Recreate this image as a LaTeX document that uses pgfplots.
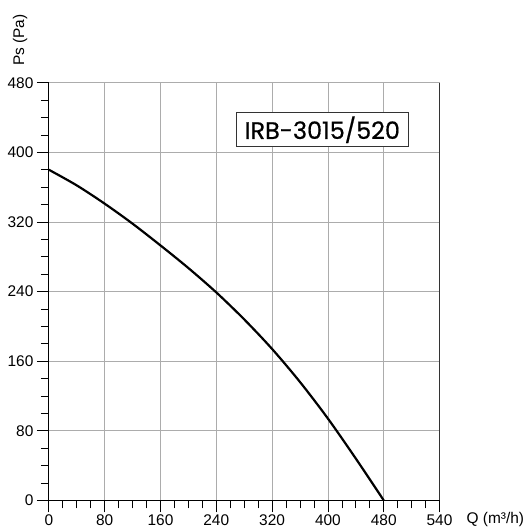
\documentclass[border=0pt]{standalone}
\usepackage{pgfplots}
\pgfplotsset{compat=1.18}
\usepackage{fontspec}
\setmainfont{Liberation Sans}
\newfontfamily\titlefont[FakeBold=0.6]{Poppins}
\begin{document}
\begin{tikzpicture}
\begin{axis}[
  scale only axis, width=392pt, height=419pt,
  xmin=0, xmax=560, ymin=0, ymax=480,
  axis x line=bottom, axis y line=left, axis line style={-, black, line width=0.8pt},
  xtick={0,80,160,240,320,400,480,560},
  xticklabels={0,80,160,240,320,400,480,540},
  ytick={0,80,160,240,320,400,480},
  minor x tick num=3, minor y tick num=3,
  tick align=outside, major tick length=12pt, minor tick length=8pt,
  tick style={black, line width=0.7pt},
  grid=major, major grid style={gray!65, line width=0.7pt},
  tick label style={font=\fontsize{15.5}{17}\selectfont},
  xticklabel style={yshift=1pt},
  /pgf/number format/assume math mode=true,
  clip=false,
]
\addplot[black, line width=2.2pt, smooth] coordinates {
 (0,380) (40,362) (80,341) (120,318) (160,293) (200,267) (240,239)
 (280,208) (320,174) (360,136) (400,94) (440,48) (480,0)
};
\draw[black!80, line width=0.8pt] (axis cs:560,0) -- (axis cs:560,480);
\node[draw=black!80, fill=white, line width=0.8pt, minimum width=173pt, minimum height=34pt, inner sep=0pt, font=\titlefont\fontsize{24}{26}\selectfont] at (axis cs:392,426) {IRB-3015/520};
\node[rotate=90, font=\fontsize{15.5}{17}\selectfont] at (axis cs:-41,529) {Ps (Pa)};
\node[font=\fontsize{15.5}{17}\selectfont] at (axis cs:640,-22) {Q (m³/h)};
\end{axis}
\path (current axis.south west) ++(-49pt,-28pt) coordinate (bbA);
\path (current axis.north east) ++(89pt,83pt) coordinate (bbB);
\path (bbA) rectangle (bbB);
\end{tikzpicture}
\end{document}
